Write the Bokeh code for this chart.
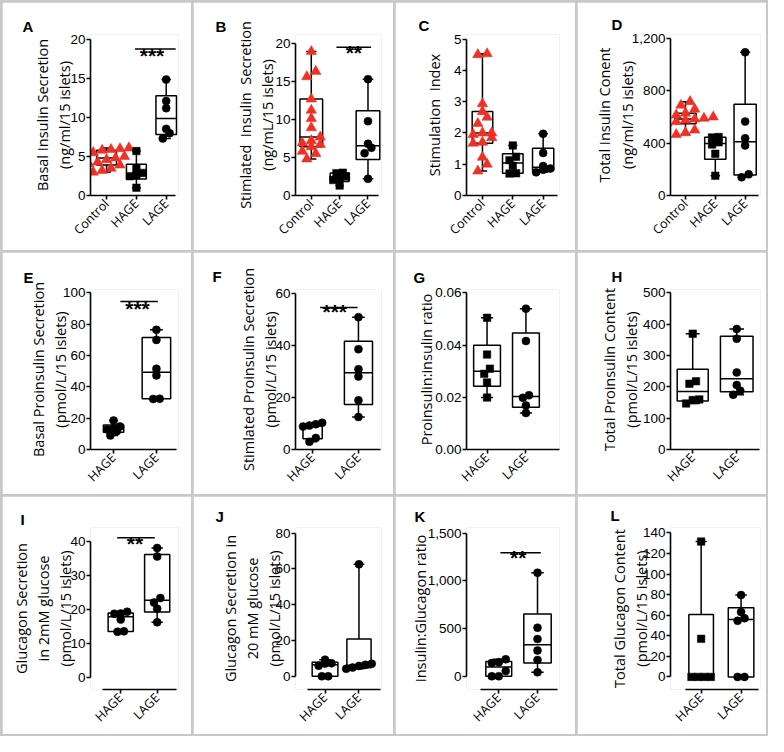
import numpy as np
from math import pi
from bokeh.plotting import figure
from bokeh.models import (Range1d, FixedTicker, NumeralTickFormatter, Label,
                          GridBox, ColumnDataSource)
from bokeh.embed import file_html
from bokeh.resources import INLINE

# ---------------- data ----------------
groups3 = ["Control", "HAGE", "LAGE"]
groups2 = ["HAGE", "LAGE"]

A_control = [3.0, 3.2, 3.5, 3.9, 4.1, 4.3, 4.6, 4.8, 5.0, 5.2, 5.5, 5.8, 5.9, 6.0, 6.1]
A_hage = [1.0, 2.47, 2.6, 2.9, 3.43, 5.7]
A_lage = [7.3, 7.99, 8.54, 11.2, 12.11, 14.86]

B_control = [4.8, 5.5, 5.8, 6.4, 6.7, 6.9, 7.2, 7.67, 8.9, 10.1, 11.2, 12.66, 15.6, 16.3, 18.9]
B_hage = [1.3, 2.03, 2.3, 2.5, 2.93, 3.0]
B_lage = [2.19, 5.56, 6.26, 6.8, 9.76, 15.27]

C_control = [0.78, 1.0, 1.22, 1.67, 1.7, 1.85, 1.95, 2.0, 2.0, 2.3, 2.5, 2.68, 2.93, 4.5, 4.53]
C_hage = [0.7, 0.71, 0.95, 1.13, 1.24, 1.6]
C_lage = [0.74, 0.82, 0.86, 0.94, 1.36, 1.97]

D_control = [466, 480, 500, 549, 555, 565, 575, 584, 590, 600, 615, 629, 660, 690, 717]
D_hage = [151, 319, 390, 406, 444, 447]
D_lage = [139, 162, 383, 437, 565, 1094]

E_hage = [9.0, 11.67, 12.8, 13.4, 14.63, 18.5]
E_lage = [32.3, 32.43, 47.3, 51.5, 70.0, 76.4]

F_hage = [3.0, 4.47, 8.8, 9.2, 9.7, 10.3]
F_lage = [12.5, 18.9, 28.1, 30.9, 38.6, 50.9]

G_hage = [0.0199, 0.0257, 0.029, 0.031, 0.0364, 0.0505]
G_lage = [0.014, 0.0169, 0.0198, 0.0208, 0.0416, 0.054]

H_hage = [147, 158, 160, 210, 218, 370]
H_lage = [175, 188, 206, 246, 354, 385]

I_hage = [13.4, 13.53, 17.0, 18.7, 18.77, 19.3]
I_lage = [16.2, 20.2, 22.0, 23.3, 35.5, 38.0]

J_hage = [0, 0, 5.9, 7.1, 7.3, 9.3]
J_lage = [4.2, 4.87, 5.8, 6.4, 7.0, 62.6]

K_hage = [0, 0, 55, 140, 148, 178]
K_lage = [42, 171, 270, 390, 509, 1085]

L_hage = [0, 0, 0, 0, 37, 131.5]
L_lage = [0, 0, 54.5, 57, 63, 79.5]

ticks_A = [0, 5, 10, 15, 20]
ticks_B = [0, 5, 10, 15, 20]
ticks_C = [0, 1, 2, 3, 4, 5]
ticks_D = [0, 400, 800, 1200]
ticks_E = [0, 20, 40, 60, 80, 100]
ticks_F = [0, 20, 40, 60]
ticks_G = [0, 0.02, 0.04, 0.06]
ticks_H = [0, 100, 200, 300, 400, 500]
ticks_I = [0, 10, 20, 30, 40]
ticks_J = [0, 20, 40, 60, 80]
ticks_K = [0, 500, 1000, 1500]
ticks_L = [0, 20, 40, 60, 80, 100, 120, 140]

NB = "\u00a0"
titles = {
    "A": "Basal Insulin Secretion\n(ng/ml/15 islets)",
    "B": f"Stimlated{NB} Insulin{NB} Secretion\n(ng/mL/15 islets)",
    "C": f"Stimulation{NB} Index",
    "D": "Total Insulin Conent\n(ng/ml/15 islets)",
    "E": "Basal Proinsulin Secretion\n(pmol/L/15 islets)",
    "F": "Stimlated Proinsulin Secretion\n(pmol/L/15 islets)",
    "G": "Proinsulin:insulin ratio",
    "H": "Total Proinsulin Content\n(pmol/L/15 islets)",
    "I": "Glucagon Secretion\nin 2mM glucose\n(pmol/L/15 islets)",
    "J": "Glucagon Secretion in\n20 mM glucose\n(pmol/L/15 islets)",
    "K": "Insulin:Glucagon ratio",
    "L": "Total Glucagon Content\n(pmol/L/15 islets)",
}

# ---------------- layout / style ----------------
CELL_W = [189, 200, 180, 189]
CELL_H = [248, 242, 238]
REF_X = [2, 198, 404, 586]
REF_Y = [2, 256, 507]

RED = "#ee3124"
TICK_FONT = "Liberation Sans"
TEXT_FONT = "Open Sans"
STAR_FS = 21
LETTER_FS = 15
LETTER_ADV = {"A": .722, "B": .722, "C": .722, "D": .722, "E": .667, "F": .611,
              "G": .778, "H": .722, "I": .278, "J": .556, "K": .722, "L": .611}

TRI = ("triangle", RED, 10.5)
SQ = ("square", "black", 7.5)
CI = ("circle", "black", 8)

panels = [
    dict(k="A", col=0, row=0, groups=groups3, vals=[A_control, A_hage, A_lage], ticks=ticks_A, fmt="0",
         mk=[TRI, SQ, CI], yax=85, y0=196, ppu=8.14, ftop=28, fbot=196, cat1=102, sp=31.5,
         xa0=85, xa1=175, fright=178, bw=[21, 21, 21.7], letter=(22, 24),
         sig=(132, 175, 43, 150, 37.5, "***"), tst=-7),
    dict(k="B", col=1, row=0, groups=groups3, vals=[B_control, B_hage, B_lage], ticks=ticks_B, fmt="0",
         mk=[TRI, SQ, CI], yax=295, y0=197, ppu=7.9, ftop=30, fbot=197, cat1=311.7, sp=30,
         xa0=295, xa1=383, fright=386, bw=[24, 20, 25], letter=(220, 24),
         sig=(338.3, 375, 43.3, 356.7, 37, "**"), tst=-5),
    dict(k="C", col=2, row=0, groups=groups3, vals=[C_control, C_hage, C_lage], ticks=ticks_C, fmt="0",
         mk=[TRI, SQ, CI], yax=473.3, y0=195, ppu=31.3, ftop=34, fbot=195, cat1=489.3, sp=31,
         xa0=473.3, xa1=566, fright=568, bw=[21, 21, 21.7], letter=(430, 24), sig=None, tst=7),
    dict(k="D", col=3, row=0, groups=groups3, vals=[D_control, D_hage, D_lage], ticks=ticks_D, fmt="0,0",
         mk=[TRI, SQ, CI], yax=676.7, y0=197, ppu=0.1325, ftop=34, fbot=197, cat1=692.3, sp=30.5,
         xa0=676.7, xa1=766.7, fright=769, bw=[21.7, 21.7, 22.7], letter=(623, 22), sig=None, tst=-8),
    dict(k="E", col=0, row=1, groups=groups2, vals=[E_hage, E_lage], ticks=ticks_E, fmt="0",
         mk=[CI, CI], yax=86, y0=456, ppu=1.605, ftop=292, fbot=456, cat1=111.7, sp=47.7,
         xa0=86, xa1=181.7, fright=184, bw=[22.7, 31.7], letter=(24, 275),
         sig=(119.3, 161, 304.3, 138.3, 299.3, "***"), tst=-10),
    dict(k="F", col=1, row=1, groups=groups2, vals=[F_hage, F_lage], ticks=ticks_F, fmt="0",
         mk=[CI, CI], yax=299.3, y0=453, ppu=2.6, ftop=293, fbot=453, cat1=318.3, sp=51.7,
         xa0=299.3, xa1=395, fright=396, bw=[21.7, 31.7], letter=(221, 275),
         sig=(326.7, 369, 311, 343.3, 303.3, "***"), tst=-8),
    dict(k="G", col=2, row=1, groups=groups2, vals=[G_hage, G_lage], ticks=ticks_G, fmt="0.00",
         mk=[SQ, CI], yax=473.3, y0=453, ppu=2625, ftop=292, fbot=453, cat1=497.3, sp=46,
         xa0=473.3, xa1=583, fright=583, bw=[31.7, 31.7], letter=(426, 275), sig=None, tst=-4),
    dict(k="H", col=3, row=1, groups=groups2, vals=[H_hage, H_lage], ticks=ticks_H, fmt="0",
         mk=[SQ, CI], yax=679.3, y0=454, ppu=0.315, ftop=293, fbot=454, cat1=701.7, sp=45,
         xa0=679.3, xa1=770, fright=771, bw=[31.7, 33.3], letter=(625, 275), sig=None, tst=-1),
    dict(k="I", col=0, row=2, groups=groups2, vals=[I_hage, I_lage], ticks=ticks_I, fmt="0",
         mk=[CI, CI], yax=90, y0=689, ppu=3.68, ftop=527, fbot=702, cat1=124, sp=41,
         xa0=103.3, xa1=186.7, fright=189, bw=[28.3, 28.3], letter=(22, 522),
         sig=(120, 162.3, 538, 140, 532.5, "**"), tst=-8),
    dict(k="J", col=1, row=2, groups=groups2, vals=[J_hage, J_lage], ticks=ticks_J, fmt="0",
         mk=[CI, CI], yax=300, y0=686.7, ppu=1.8, ftop=537, fbot=700, cat1=333.3, sp=38.3,
         xa0=313.3, xa1=396, fright=397, bw=[29, 27.3], letter=(224, 522), sig=None, tst=-12),
    dict(k="K", col=2, row=2, groups=groups2, vals=[K_hage, K_lage], ticks=ticks_K, fmt="0,0",
         mk=[CI, CI], yax=475, y0=686.7, ppu=0.096, ftop=537, fbot=700, cat1=508.3, sp=40,
         xa0=489, xa1=569, fright=571, bw=[26.7, 28.3], letter=(428, 522),
         sig=(510, 551.7, 562.3, 528.3, 555, "**"), tst=-5),
    dict(k="L", col=3, row=2, groups=groups2, vals=[L_hage, L_lage], ticks=ticks_L, fmt="0",
         mk=[SQ, CI], yax=678.3, y0=688.3, ppu=1.035, ftop=538, fbot=701, cat1=710, sp=41.7,
         xa0=693.3, xa1=770, fright=772, bw=[25.7, 26.7], letter=(623, 522), sig=None, tst=-11),
]


def swarm_offsets(vals, ppu, d):
    """Horizontal offsets (px) so that points of similar value sit side by side."""
    vals = np.asarray(vals, float)
    order = np.argsort(vals, kind="stable")
    offs = np.zeros(len(vals))
    rows, cur = [], [order[0]]
    for k in order[1:]:
        if (vals[k] - vals[cur[0]]) * ppu < d * 0.8:
            cur.append(k)
        else:
            rows.append(cur)
            cur = [k]
    rows.append(cur)
    for r in rows:
        m = len(r)
        for j, k in enumerate(r):
            offs[k] = (j - (m - 1) / 2) * d
    return offs


def make_panel(c):
    col, row = c["col"], c["row"]
    cx, cy = REF_X[col], REF_Y[row]
    W, H = CELL_W[col], CELL_H[row]
    left = int(round(c["yax"] - cx))
    top = int(round(c["ftop"] - cy))
    bot_rel = int(round(c["fbot"] - cy))
    right_rel = int(round(c["fright"] - cx))
    sp, cat1, y0, ppu = c["sp"], c["cat1"], c["y0"], c["ppu"]
    fx0, fx1 = cx + left, cx + right_rel
    fyb, fyt = cy + bot_rel, cy + top

    def xd(px):
        return 1 + (px - cat1) / sp

    def yd(px):
        return (y0 - px) / ppu

    p = figure(width=W, height=H, x_range=Range1d(xd(fx0), xd(fx1)),
               y_range=Range1d(yd(fyb), yd(fyt)), output_backend="svg",
               toolbar_location=None, min_border_left=left,
               min_border_right=W - right_rel, min_border_top=top,
               min_border_bottom=H - bot_rel)
    p.xgrid.visible = False
    p.ygrid.visible = False
    p.outline_line_color = None
    p.background_fill_color = "white"
    p.border_fill_color = "white"

    # panel letter as the figure title, pulled to the left of the frame
    lx, ly = c["letter"]
    p.title.text = c["k"]
    p.title.align = "left"
    p.title.text_font = TICK_FONT
    p.title.text_font_size = f"{LETTER_FS}px"
    p.title.text_font_style = "bold"
    p.title.text_color = "black"
    p.title.offset = int(round(lx - LETTER_ADV[c["k"]] * LETTER_FS / 2 - fx0))
    p.title.standoff = max(0, int(round(fyt - ly - 8.6)))

    ya = p.yaxis[0]
    ya.ticker = FixedTicker(ticks=c["ticks"])
    ya.bounds = (0, max(c["ticks"]))
    ya.formatter = NumeralTickFormatter(format=c["fmt"])
    ya.minor_tick_line_color = None
    ya.axis_line_width = 1.6
    ya.major_tick_line_width = 1.6
    ya.major_tick_out = 4
    ya.major_tick_in = 0
    ya.major_label_standoff = 1
    ya.major_label_text_font = TICK_FONT
    ya.major_label_text_font_size = "13.5px"
    ya.major_label_text_color = "black"
    ya.axis_label = titles[c["k"]]
    ya.axis_label_text_font = TEXT_FONT
    ya.axis_label_text_font_size = "14.5px"
    ya.axis_label_text_font_style = "normal"
    ya.axis_label_text_color = "black"
    ya.axis_label_standoff = c["tst"]
    ya.axis_label_text_line_height = 1.18

    n = len(c["groups"])
    xa = p.xaxis[0]
    xa.ticker = FixedTicker(ticks=list(range(1, n + 1)))
    xa.major_label_overrides = {i + 1: g for i, g in enumerate(c["groups"])}
    xa.major_label_orientation = pi / 4
    xa.bounds = (xd(c["xa0"]), xd(c["xa1"]))
    xa.minor_tick_line_color = None
    xa.axis_line_width = 1.6
    xa.major_tick_line_width = 1.6
    xa.major_tick_out = 4
    xa.major_tick_in = 0
    xa.major_label_standoff = 2
    xa.major_label_text_font = TEXT_FONT
    xa.major_label_text_font_size = "12.5px"
    xa.major_label_text_color = "black"
    xa.axis_label = None
    xa.axis_label_standoff = 0

    # box plots (GraphPad style quartiles, whiskers min to max)
    xs = np.arange(1, n + 1, dtype=float)
    q1 = [np.percentile(v, 25, method="weibull") for v in c["vals"]]
    med = [np.percentile(v, 50, method="weibull") for v in c["vals"]]
    q3 = [np.percentile(v, 75, method="weibull") for v in c["vals"]]
    lo = [min(v) for v in c["vals"]]
    hi = [max(v) for v in c["vals"]]
    w = np.array(c["bw"]) / sp
    cap = w * 0.45
    src = ColumnDataSource(dict(x=xs, q1=q1, med=med, q3=q3, lo=lo, hi=hi,
                                l=xs - w / 2, r=xs + w / 2,
                                cl=xs - cap / 2, cr=xs + cap / 2))
    lw = 1.5
    p.segment(x0="x", y0="q3", x1="x", y1="hi", source=src, line_color="black", line_width=lw)
    p.segment(x0="x", y0="q1", x1="x", y1="lo", source=src, line_color="black", line_width=lw)
    p.segment(x0="cl", y0="hi", x1="cr", y1="hi", source=src, line_color="black", line_width=lw)
    p.segment(x0="cl", y0="lo", x1="cr", y1="lo", source=src, line_color="black", line_width=lw)
    p.quad(left="l", right="r", bottom="q1", top="q3", source=src, fill_color="white",
           line_color="black", line_width=lw)
    p.segment(x0="l", y0="med", x1="r", y1="med", source=src, line_color="black", line_width=lw)

    # individual points
    for i, v in enumerate(c["vals"]):
        marker, color, size = c["mk"][i]
        offs = swarm_offsets(v, ppu, size * 0.9) / sp
        p.scatter(x=list(xs[i] + offs), y=list(v), marker=marker, size=size,
                  fill_color=color, line_color=color, line_width=0.5)

    # significance bar
    if c["sig"] is not None:
        x1, x2, ypx, sx, sy, txt = c["sig"]
        p.segment(x0=[xd(x1)], y0=[yd(ypx)], x1=[xd(x2)], y1=[yd(ypx)],
                  line_color="black", line_width=1.5)
        p.add_layout(Label(x=xd(sx), y=yd(sy + 0.58 * STAR_FS), text=txt,
                           text_align="center", text_baseline="alphabetic",
                           text_font=TICK_FONT, text_font_size=f"{STAR_FS}px",
                           text_font_style="bold", text_color="black"))
    return p


children = [(make_panel(c), c["row"], c["col"]) for c in panels]
grid = GridBox(children=children, spacing=2,
               styles={"background-color": "#c8c8c8", "padding": "2px"})

open("out.html", "w").write(file_html(grid, INLINE))
